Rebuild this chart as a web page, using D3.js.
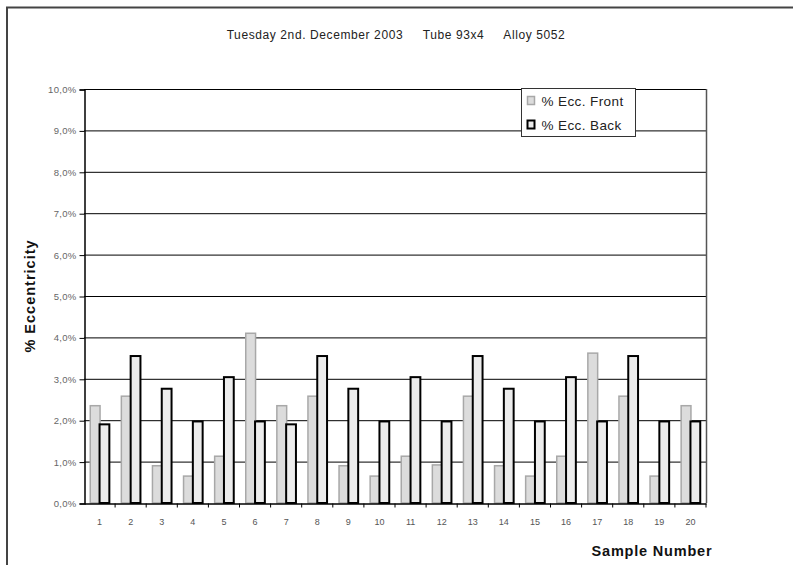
<!DOCTYPE html>
<html>
<head>
<meta charset="utf-8">
<script src="https://cdn.jsdelivr.net/npm/d3@7/dist/d3.min.js"></script>
<style>
  html, body { margin: 0; padding: 0; background: #fff; }
  svg { display: block; font-family: Arial, "Liberation Sans", sans-serif; }
</style>
</head>
<body>
<svg id="chart" width="793" height="565"></svg>
<script>
// Eccentricity measurements per sample (percent)
const samples = d3.range(1, 21).map(String);
const eccFront = [2.35, 2.58, 0.90, 0.65, 1.13, 4.10, 2.35, 2.58, 0.90, 0.65,
                  1.13, 0.92, 2.58, 0.90, 0.65, 1.13, 3.62, 2.58, 0.65, 2.35];
const eccBack  = [1.90, 3.55, 2.76, 1.97, 3.04, 1.97, 1.90, 3.55, 2.76, 1.97,
                  3.04, 1.97, 3.55, 2.76, 1.97, 3.04, 1.97, 3.55, 1.97, 1.97];
const seriesNames = ["% Ecc. Front", "% Ecc. Back"];
const yTicks = d3.range(0, 11);
const titleText = "Tuesday 2nd. December 2003     Tube 93x4     Alloy 5052";

const svg = d3.select("#chart");

// outer chart frame
svg.append("path")
  .attr("d", "M7,565 V7.5 H793")
  .attr("fill", "none").attr("stroke", "#444").attr("stroke-width", 2);

const plot = { left: 84, right: 706, top: 89, bottom: 503 };

const x = d3.scaleBand().domain(samples).range([plot.left, plot.right]).padding(0);
const y = d3.scaleLinear().domain([0, 10]).range([plot.bottom, plot.top]);

// horizontal gridlines
svg.append("g").selectAll("line").data(yTicks.slice(1)).join("line")
  .attr("x1", plot.left).attr("x2", plot.right)
  .attr("y1", d => y(d) + 0.5).attr("y2", d => y(d) + 0.5)
  .attr("stroke", "#000").attr("stroke-width", 1);

// right border of the plot area
svg.append("line")
  .attr("x1", plot.right + 0.5).attr("x2", plot.right + 0.5)
  .attr("y1", plot.top).attr("y2", plot.bottom)
  .attr("stroke", "#555").attr("stroke-width", 1.5);

// bars
const barW = 9.8;
const groupOffset = (x.bandwidth() - 2 * barW) / 2;
const bars = svg.append("g");
bars.selectAll("rect.front").data(eccFront).join("rect")
  .attr("class", "front")
  .attr("x", (d, i) => x(samples[i]) + groupOffset + 0.5)
  .attr("y", d => y(d))
  .attr("width", barW)
  .attr("height", d => y(0) - y(d))
  .attr("fill", "#dcdcdc").attr("stroke", "#a8a8a8").attr("stroke-width", 1.5);
bars.selectAll("rect.back").data(eccBack).join("rect")
  .attr("class", "back")
  .attr("x", (d, i) => x(samples[i]) + groupOffset + barW)
  .attr("y", d => y(d))
  .attr("width", barW)
  .attr("height", d => y(0) - y(d))
  .attr("fill", "#ececec").attr("stroke", "#000").attr("stroke-width", 2);

// y axis
const yAxis = d3.axisLeft(y).tickValues(yTicks).tickSize(5).tickPadding(3)
  .tickFormat(d => d3.format(".1f")(d).replace(".", ",") + "%");
const gy = svg.append("g").attr("transform", `translate(${plot.left + 0.5},0.5)`).call(yAxis);
gy.select(".domain").attr("stroke", "#000").attr("stroke-width", 1.5);
gy.selectAll(".tick line").attr("stroke", "#000");
gy.selectAll(".tick text").attr("font-size", 9.5).attr("fill", "#666")
  .attr("letter-spacing", 0.3)
  .attr("font-family", "Arial, 'Liberation Sans', sans-serif");

// x axis
const xAxis = d3.axisBottom(x).tickSize(0).tickPadding(15);
const gx = svg.append("g").attr("transform", `translate(0,${plot.bottom + 0.5})`).call(xAxis);
gx.select(".domain").attr("stroke", "#000").attr("stroke-width", 1.5);
gx.selectAll(".tick text").attr("font-size", 9).attr("fill", "#555")
  .attr("font-family", "Arial, 'Liberation Sans', sans-serif");
// tick marks between categories
gx.append("g").selectAll("line").data(samples.slice(1).concat(["end"])).join("line")
  .attr("x1", (d, i) => plot.left + (i + 1) * x.bandwidth())
  .attr("x2", (d, i) => plot.left + (i + 1) * x.bandwidth())
  .attr("y1", 0).attr("y2", 4)
  .attr("stroke", "#000");

// title
svg.append("text")
  .attr("x", 396).attr("y", 39)
  .attr("text-anchor", "middle")
  .attr("font-size", 12).attr("fill", "#222")
  .attr("letter-spacing", 0.6)
  .style("white-space", "pre")
  .text(titleText);

// axis titles
svg.append("text")
  .attr("transform", "translate(35,296) rotate(-90)")
  .attr("text-anchor", "middle")
  .attr("font-size", 14.5).attr("font-weight", "bold").attr("fill", "#111")
  .attr("letter-spacing", 1)
  .text("% Eccentricity");
svg.append("text")
  .attr("x", 652).attr("y", 556)
  .attr("text-anchor", "middle")
  .attr("font-size", 14.5).attr("font-weight", "bold").attr("fill", "#111")
  .attr("letter-spacing", 0.8)
  .text("Sample Number");

// legend
const legend = svg.append("g").attr("transform", "translate(521.5,88.5)");
legend.append("rect").attr("width", 114).attr("height", 48)
  .attr("fill", "#fff").attr("stroke", "#333").attr("stroke-width", 1);
const legendStyles = [
  { fill: "#dcdcdc", stroke: "#a8a8a8", sw: 1.5 },
  { fill: "#ececec", stroke: "#000", sw: 2 }
];
seriesNames.forEach((name, i) => {
  const row = legend.append("g").attr("transform", `translate(6,${12 + i * 24})`);
  row.append("rect").attr("x", 0).attr("y", -4).attr("width", 7).attr("height", 8)
    .attr("fill", legendStyles[i].fill).attr("stroke", legendStyles[i].stroke)
    .attr("stroke-width", legendStyles[i].sw);
  row.append("text").attr("x", 14).attr("y", 5)
    .attr("font-size", 13.5).attr("fill", "#222")
    .attr("letter-spacing", 0.4)
    .text(name);
});
</script>
</body>
</html>
